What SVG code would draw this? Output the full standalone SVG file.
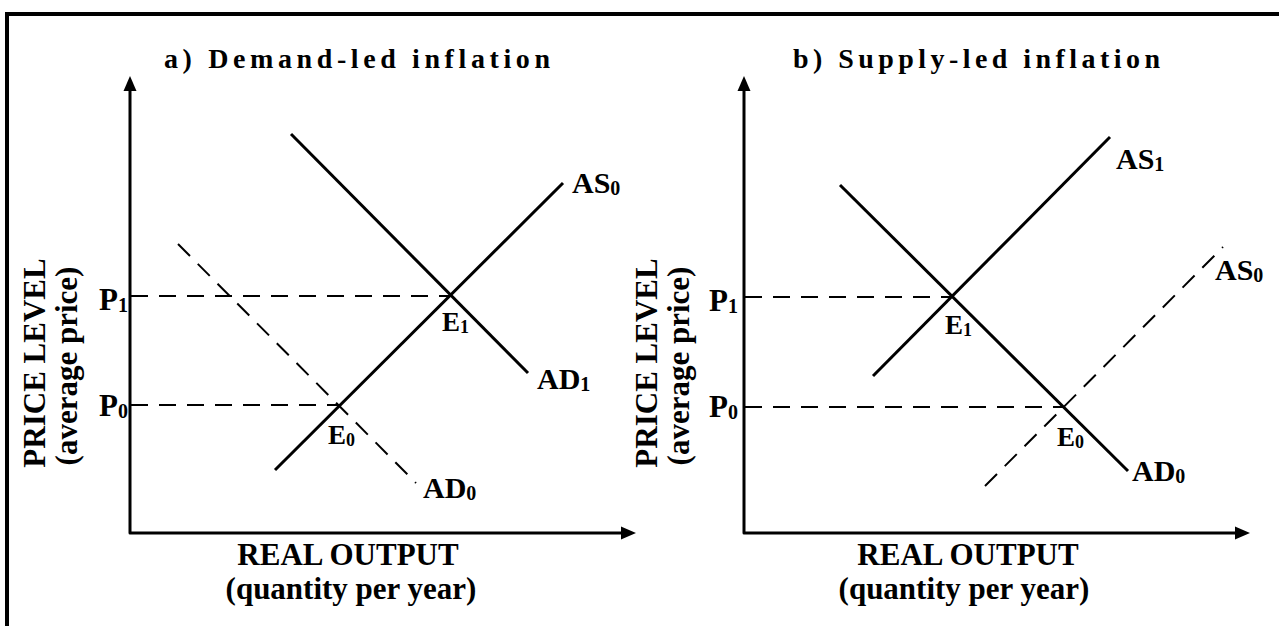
<svg xmlns="http://www.w3.org/2000/svg" width="1279" height="626" viewBox="0 0 1279 626">
<style>
  text { font-family: "Liberation Serif", "Times New Roman", serif; font-weight: bold; fill: #000; }
  .title { font-size: 28px; }
  .axlab { font-size: 31px; }
  .plab { font-size: 31px; }
  .lab { font-size: 30px; }
  .sub { font-size: 20px; }
  .elab { font-size: 27px; }
  .esub { font-size: 18px; }
  .axis { fill: none; stroke: #000; stroke-width: 3; stroke-linejoin: round; marker-start: url(#arrow); marker-end: url(#arrow); }
  .curve { fill: none; stroke: #000; stroke-width: 3; }
  .dash { fill: none; stroke: #000; stroke-width: 2; stroke-dasharray: 17 11; }
  .frame { fill: none; stroke: #000; stroke-width: 4; }
</style>
<defs>
  <marker id="arrow" markerUnits="userSpaceOnUse" markerWidth="16" markerHeight="14" refX="5" refY="7" orient="auto-start-reverse" viewBox="0 0 16 14">
    <path d="M0,0.5 L15,7 L0,13.5 z" fill="#000"/>
  </marker>
</defs>
<path class="frame" d="M7,630 L7,14 L1285,14"/>

<g id="panel-a">
  <g id="title-a"><text class="title" x="164" y="68" textLength="386" lengthAdjust="spacing">a) Demand-led inflation</text></g>
  <g id="axes-a"><path class="axis" d="M130,86 L130,533 L626,533"/></g>
  <g id="ylabel-a">
    <text class="axlab" transform="translate(45,363) rotate(-90)" text-anchor="middle">PRICE LEVEL</text>
    <text class="axlab" transform="translate(77,366) rotate(-90)" text-anchor="middle">(average price)</text>
  </g>
  <g id="xlabel-a">
    <text class="axlab" x="348" y="565" text-anchor="middle">REAL OUTPUT</text>
    <text class="axlab" x="351" y="599" text-anchor="middle">(quantity per year)</text>
  </g>
  <g id="connectors-a">
    <line class="curve" x1="291" y1="134" x2="528" y2="373"/>
    <line class="curve" x1="275" y1="470" x2="563" y2="183"/>
    <line class="dash" x1="178" y1="244" x2="416" y2="483"/>
    <line class="dash" x1="131" y1="296" x2="450" y2="296"/>
    <line class="dash" x1="131" y1="405" x2="338" y2="405"/>
  </g>
  <g id="P1-a"><text class="plab" x="99" y="310">P<tspan class="sub" dy="2">1</tspan></text></g>
  <g id="P0-a"><text class="plab" x="99" y="416">P<tspan class="sub" dy="2">0</tspan></text></g>
  <g id="AS0-a"><text class="lab" x="572" y="193">AS<tspan class="sub" dy="2">0</tspan></text></g>
  <g id="AD1-a"><text class="lab" x="537" y="389">AD<tspan class="sub" dy="2">1</tspan></text></g>
  <g id="AD0-a"><text class="lab" x="423" y="498">AD<tspan class="sub" dy="2">0</tspan></text></g>
  <g id="E1-a"><text class="elab" x="442" y="331">E<tspan class="esub" dy="2">1</tspan></text></g>
  <g id="E0-a"><text class="elab" x="328" y="444">E<tspan class="esub" dy="2">0</tspan></text></g>
</g>

<g id="panel-b">
  <g id="title-b"><text class="title" x="793" y="68" textLength="367" lengthAdjust="spacing">b) Supply-led inflation</text></g>
  <g id="axes-b"><path class="axis" d="M744,86 L744,533 L1240,533"/></g>
  <g id="ylabel-b">
    <text class="axlab" transform="translate(657,363) rotate(-90)" text-anchor="middle">PRICE LEVEL</text>
    <text class="axlab" transform="translate(689,366) rotate(-90)" text-anchor="middle">(average price)</text>
  </g>
  <g id="xlabel-b">
    <text class="axlab" x="968" y="565" text-anchor="middle">REAL OUTPUT</text>
    <text class="axlab" x="964" y="599" text-anchor="middle">(quantity per year)</text>
  </g>
  <g id="connectors-b">
    <line class="curve" x1="840" y1="185" x2="1128" y2="471"/>
    <line class="curve" x1="873" y1="376" x2="1110" y2="137"/>
    <line class="dash" x1="985" y1="486" x2="1223" y2="247"/>
    <line class="dash" x1="745" y1="297" x2="952" y2="297"/>
    <line class="dash" x1="745" y1="407" x2="1063" y2="407"/>
  </g>
  <g id="P1-b"><text class="plab" x="709" y="311">P<tspan class="sub" dy="2">1</tspan></text></g>
  <g id="P0-b"><text class="plab" x="709" y="417">P<tspan class="sub" dy="2">0</tspan></text></g>
  <g id="AS1-b"><text class="lab" x="1116" y="169">AS<tspan class="sub" dy="2">1</tspan></text></g>
  <g id="AS0-b"><text class="lab" x="1215" y="280">AS<tspan class="sub" dy="2">0</tspan></text></g>
  <g id="AD0-b"><text class="lab" x="1132" y="481">AD<tspan class="sub" dy="2">0</tspan></text></g>
  <g id="E1-b"><text class="elab" x="945" y="334">E<tspan class="esub" dy="2">1</tspan></text></g>
  <g id="E0-b"><text class="elab" x="1057" y="446">E<tspan class="esub" dy="2">0</tspan></text></g>
</g>
</svg>
